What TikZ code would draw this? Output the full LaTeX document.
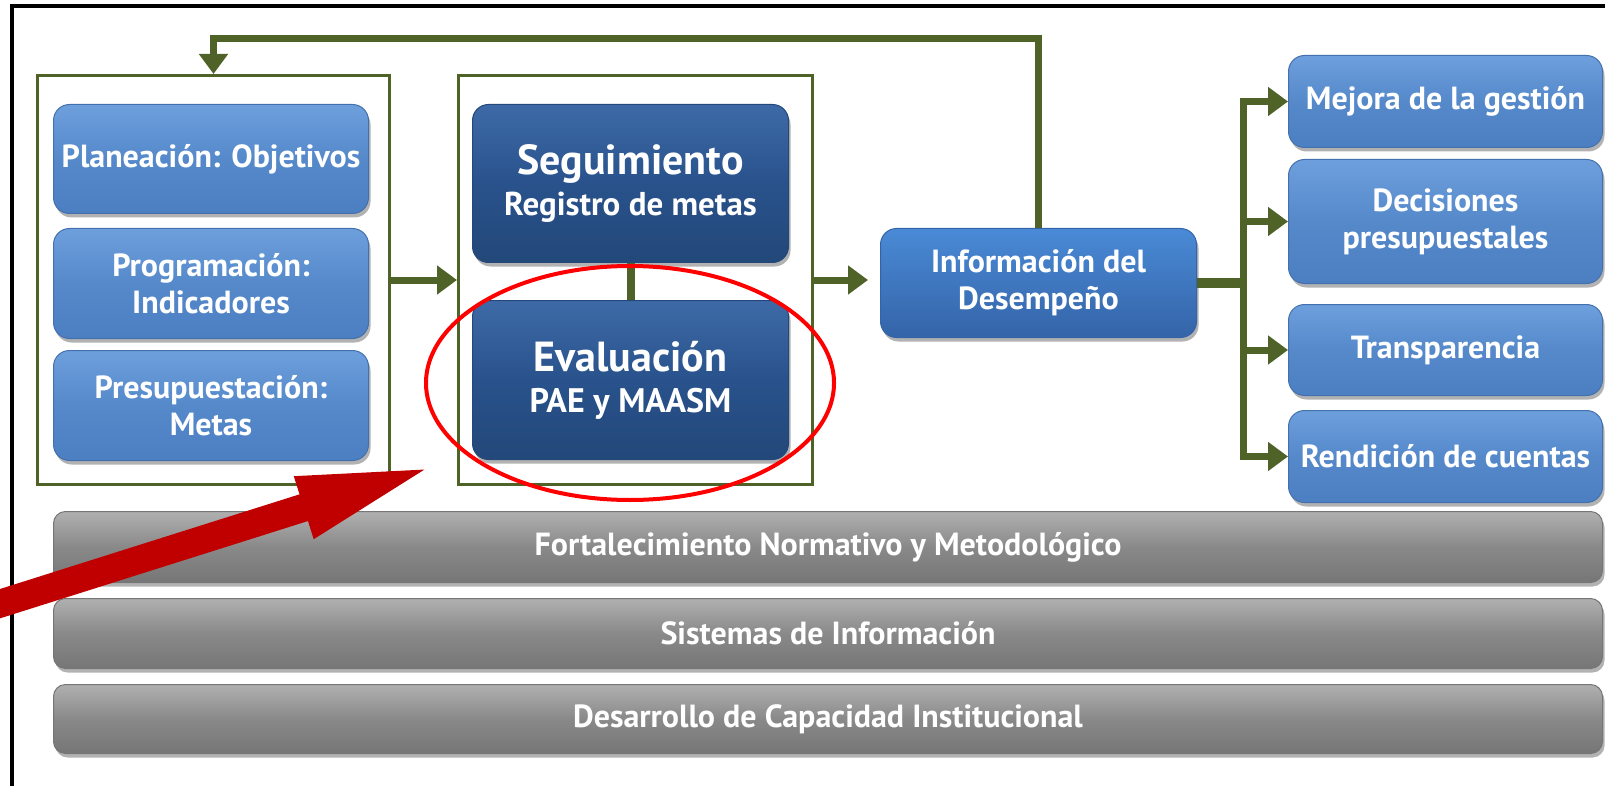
\documentclass[tikz,border=0pt]{standalone}
\usepackage{fontspec}
\setmainfont{PT Sans}
\usetikzlibrary{arrows.meta,shadows,shapes.geometric}

\definecolor{verde}{HTML}{4F6228}
\definecolor{azul}{HTML}{5589CA}
\definecolor{azultop}{HTML}{6E9FDD}
\definecolor{azulbot}{HTML}{4C7FC2}
\definecolor{azulborde}{HTML}{4471AE}
\definecolor{marino}{HTML}{29528C}
\definecolor{marinotop}{HTML}{3D6AA6}
\definecolor{marinobot}{HTML}{234879}
\definecolor{infotop}{HTML}{4A8AD6}
\definecolor{infobot}{HTML}{3464A8}
\definecolor{gristop}{HTML}{B0B0B0}
\definecolor{gris}{HTML}{898989}
\definecolor{grisbot}{HTML}{767676}
\definecolor{rojo}{HTML}{C00000}

\tikzset{
    caja/.style={anchor=north west, rounded corners=16pt, align=center, inner sep=0pt,
        text=white, font=\bfseries\fontsize{32}{37}\selectfont, line width=1pt,
        drop shadow={shadow xshift=2pt, shadow yshift=-4pt, opacity=0.3, fill=black}},
    clara/.style={caja, draw=azulborde, top color=azultop, bottom color=azulbot, middle color=azul},
    oscura/.style={caja, draw=marinobot, top color=marinotop, bottom color=marinobot, middle color=marino},
    infocaja/.style={caja, draw=infobot, top color=infotop, bottom color=infobot},
    barra/.style={caja, rounded corners=12pt, draw=grisbot, top color=gristop, bottom color=grisbot, middle color=gris},
    marco/.style={anchor=north west, draw=verde, line width=3pt, inner sep=0pt},
    flecha/.style={draw=verde, line width=7pt, -{Triangle[length=20pt,width=28pt]}}
}

\begin{document}
\begin{tikzpicture}[x=1pt, y=-1pt]
        \useasboundingbox (0,0) rectangle (1605,786);
        \clip (0,0) rectangle (1605,786);
        % outer frame, top and left only
        \draw[line width=4pt] (12,786) -- (12,6) -- (1605,6);
        % green frames
        \node[marco, minimum width=352pt, minimum height=409pt] (marcoizq) at (36,74) {};
        \node[marco, minimum width=354pt, minimum height=409pt] (marcocen) at (457,74) {};
        % left column
        \node[clara, minimum width=315pt, minimum height=109pt] (plan) at (53,104) {Planeación: Objetivos};
        \node[clara, minimum width=315pt, minimum height=110pt] (prog) at (53,228) {Programación:\\Indicadores};
        \node[clara, minimum width=315pt, minimum height=110pt] (presup) at (53,350) {Presupuestación:\\Metas};
        % centre column
        \node[oscura, minimum width=316pt, minimum height=158pt] (segui) at (472,104)
            {{\fontsize{42}{46}\selectfont Seguimiento}\\[4pt]{\fontsize{33}{37}\selectfont Registro de metas}};
        \node[oscura, minimum width=316pt, minimum height=159pt] (evalua) at (472,300)
            {{\fontsize{42}{46}\selectfont Evaluación}\\[4pt]{\fontsize{34}{37}\selectfont PAE y MAASM}};
        % performance information
        \node[infocaja, minimum width=316pt, minimum height=109pt] (info) at (880,228) {Información del\\Desempeño};
        % uses of the information
        \node[clara, minimum width=314pt, minimum height=92pt] (mejora) at (1288,55) {Mejora de la gestión};
        \node[clara, minimum width=314pt, minimum height=124pt] (decis) at (1288,159) {Decisiones\\presupuestales};
        \node[clara, minimum width=314pt, minimum height=91pt] (transp) at (1288,304) {Transparencia};
        \node[clara, minimum width=314pt, minimum height=92pt] (rendic) at (1288,410) {Rendición de cuentas};
        % bottom bars
        \node[barra, minimum width=1549pt, minimum height=71pt] (fort) at (53,511) {Fortalecimiento Normativo y Metodológico};
        \node[barra, minimum width=1549pt, minimum height=70pt] (sist) at (53,598) {Sistemas de Información};
        \node[barra, minimum width=1549pt, minimum height=69pt] (desarr) at (53,684) {Desarrollo de Capacidad Institucional};
        % connectors
        \coordinate (vuelta) at (600,39);
        \coordinate (tronco) at (1243,0);
        \draw[flecha] (marcoizq.east) -- (marcocen.west);
        \draw[flecha, shorten >=12pt] (marcocen.east) -- (info.west |- marcocen.east);
        \draw[flecha] (info.north) |- (vuelta) -| (marcoizq.north);
        \draw[draw=verde, line width=8pt] (segui) -- (evalua);
        \draw[draw=verde, line width=10pt] (info.east) -- (info.east -| tronco);
        \foreach \n in {mejora,decis,transp,rendic}
            \draw[flecha] (info.east -| tronco) |- (\n.west);
        % red mark
        \node[draw=red, line width=4pt, ellipse, minimum width=408pt, minimum height=234pt, inner sep=0pt] (marca) at (630,383) {};
        \coordinate (cola) at (-20,610);
        \coordinate (punta) at (442,464);
        \draw[rojo, line width=28pt, -{Triangle[length=145pt,width=56pt]}] (cola) -- (punta);
    \end{tikzpicture}
\end{document}
